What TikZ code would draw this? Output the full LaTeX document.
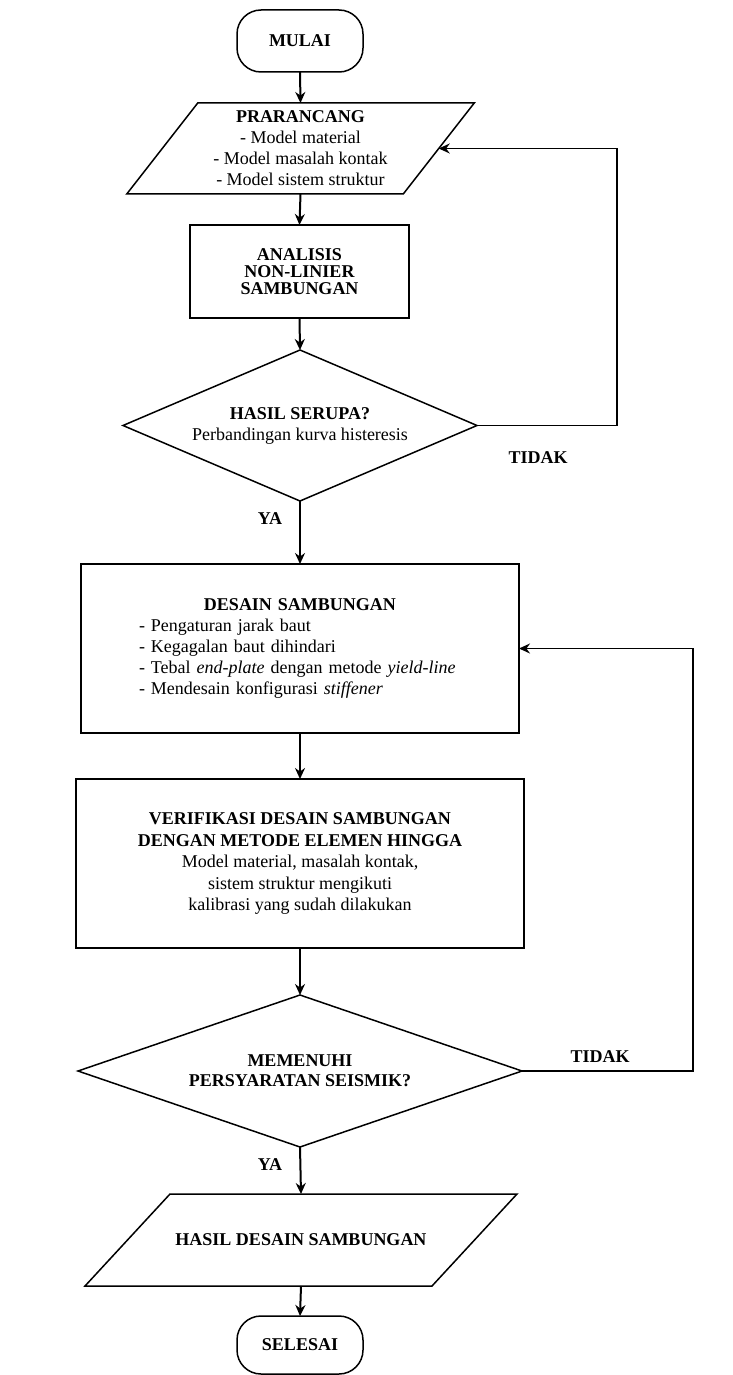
\documentclass[tikz,border=0pt]{standalone}
\usepackage{fontspec}
\setmainfont{Liberation Serif}
\usetikzlibrary{arrows.meta,shapes.geometric}
\begin{document}
\begin{tikzpicture}[x=1pt,y=-1pt,
  every node/.style={font=\fontsize{18}{21}\selectfont, outer sep=0pt},
  term/.style={draw, line width=1.5pt, rounded corners=24pt, minimum width=126pt, minimum height=62pt, font=\fontsize{18}{21}\selectfont\bfseries},
  proc/.style={draw, line width=1.5pt, align=center},
  dec/.style={diamond, draw, line width=1.5pt, align=center, inner sep=0pt},
  io/.style={align=center, inner sep=2pt},
  paraline/.style={line width=1.5pt},
  arr/.style={-{Stealth[length=11pt,width=10pt]}, line width=2pt},
  thinarr/.style={-{Stealth[length=11pt,width=10pt]}, line width=1.5pt},
  lbl/.style={font=\fontsize{18}{21}\selectfont\bfseries, inner sep=0pt}
]
\useasboundingbox (0,0) rectangle (732,1375);

% start
\node[term] (mulai) at (300,41) {MULAI};

% prarancang (parallelogram)
\node[io, minimum width=276.5pt, minimum height=91pt] (prar) at (300.5,148.5)
  {\textbf{PRARANCANG}\\- Model material\\- Model masalah kontak\\- Model sistem struktur};
\draw[paraline] ([xshift=35.5pt]prar.north west) -- ([xshift=35.5pt]prar.north east)
  -- ([xshift=-35.5pt]prar.south east) -- ([xshift=-35.5pt]prar.south west) -- cycle;

% analisis
\node[proc, minimum width=219pt, minimum height=93pt, font=\fontsize{18}{17}\selectfont\bfseries] (anal) at (299.5,271.5)
  {ANALISIS\\NON-LINIER\\SAMBUNGAN};

% decision 1
\node[dec, minimum width=354pt, minimum height=151pt, aspect=2.34] (d1) at (300,425.5)
  {\textbf{HASIL SERUPA?}\\Perbandingan kurva histeresis};

% desain sambungan
\node[draw, line width=1.5pt, minimum width=438pt, minimum height=169pt, text width=322pt] (desain) at (300,648.5)
  {{\centering\bfseries DESAIN SAMBUNGAN\par}\raggedright
   - Pengaturan jarak baut\par
   - Kegagalan baut dihindari\par
   - Tebal \textit{end-plate} dengan metode \textit{yield-line}\par
   - Mendesain konfigurasi \textit{stiffener}\par\vspace*{20pt}};

% verifikasi
\node[proc, minimum width=448pt, minimum height=169pt, font=\fontsize{18}{21.5}\selectfont] (verif) at (300,863.5)
  {\textbf{VERIFIKASI DESAIN SAMBUNGAN}\\\textbf{DENGAN METODE ELEMEN HINGGA}\\Model material, masalah kontak,\\sistem struktur mengikuti\\kalibrasi yang sudah dilakukan};

% decision 2
\node[dec, minimum width=444pt, minimum height=152pt, aspect=2.92, font=\fontsize{18}{20}\selectfont\bfseries] (d2) at (300,1071)
  {MEMENUHI\\PERSYARATAN SEISMIK?};

% hasil (parallelogram)
\node[io, minimum width=347pt, minimum height=92pt, font=\fontsize{18}{21}\selectfont\bfseries] (hasil) at (301,1240)
  {HASIL DESAIN SAMBUNGAN};
\draw[paraline] ([xshift=42.5pt]hasil.north west) -- ([xshift=42.5pt]hasil.north east)
  -- ([xshift=-42.5pt]hasil.south east) -- ([xshift=-42.5pt]hasil.south west) -- cycle;

% end
\node[term, minimum height=58pt] (selesai) at (300,1345) {SELESAI};

% main flow
\draw[arr] (mulai.south) -- (prar.north);
\draw[arr] (prar.south) -- (anal.north);
\draw[arr] (anal.south) -- (d1.north);
\draw[thinarr] (d1.south) -- (desain.north);
\draw[arr] (desain.south) -- (verif.north);
\draw[arr] (verif.south) -- (d2.north);
\draw[arr] (d2.south) -- (hasil.north);
\draw[arr] (hasil.south) -- (selesai.north);

% feedback loops
\draw[thinarr] (d1.east) -- ++(140,0) |- (prar.east);
\draw[thinarr] (d2.east) -- ++(171,0) |- (desain.east);

% labels
\node[lbl] (ya1) at (270,519) {YA};
\node[lbl] (tidak1) at (538,458) {TIDAK};
\node[lbl] (ya2) at (270,1165) {YA};
\node[lbl] (tidak2) at (600,1057) {TIDAK};
\end{tikzpicture}
\end{document}
